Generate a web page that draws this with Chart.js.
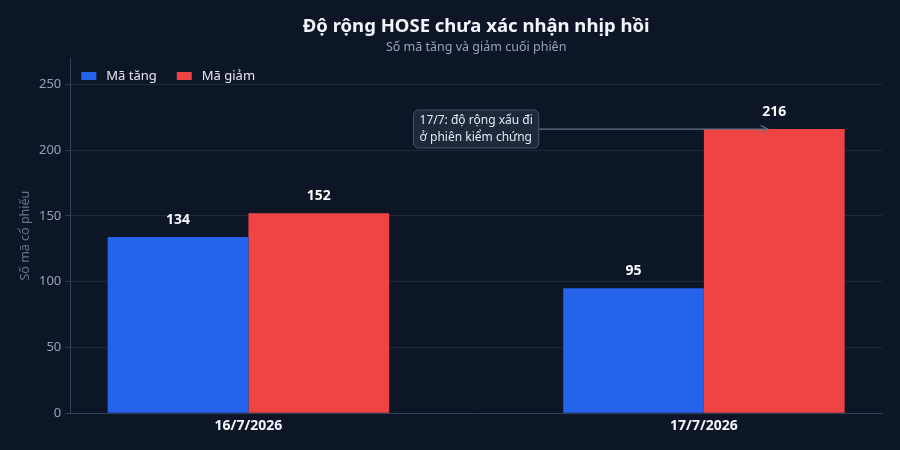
<!DOCTYPE html>
<html><head><meta charset="utf-8">
<script src="https://cdn.jsdelivr.net/npm/chart.js@4.4.1/dist/chart.umd.min.js"></script>
<style>
html,body{margin:0;padding:0;background:#0c1626;}
#wrap{width:900px;height:450px;}
</style></head>
<body><div id="wrap"><canvas id="c" width="900" height="450"></canvas></div>
<script>
const categories = ["16/7/2026", "17/7/2026"];
const seriesNames = ["Mã tăng", "Mã giảm"];
const seriesColors = ["#2563eb", "#ef4444"];
const upValues = [134, 95];
const downValues = [152, 216];
const yTicks = [0, 50, 100, 150, 200, 250];
const titleText = "Độ rộng HOSE chưa xác nhận nhịp hồi";
const subtitleText = "Số mã tăng và giảm cuối phiên";
const annotationText = ["17/7: độ rộng xấu đi", "ở phiên kiểm chứng"];
const annotationTextAt = [0.5, 216];
const annotationArrowTo = [1.14, 216];

const FONT = "'Noto Sans', 'DejaVu Sans', sans-serif";

const titles = {
  id: 'titles',
  afterDraw(chart) {
    const ctx = chart.ctx;
    const a = chart.chartArea;
    const cx = (a.left + a.right) / 2;
    ctx.save();
    ctx.textAlign = 'center';
    ctx.textBaseline = 'middle';
    ctx.fillStyle = '#f1f5f9';
    ctx.font = "bold 18.5px " + FONT;
    ctx.fillText(titleText, cx, 27);
    ctx.fillStyle = '#94a3b8';
    ctx.font = "12.5px " + FONT;
    ctx.fillText(subtitleText, cx, 47);
    ctx.restore();
  }
};

const valueLabels = {
  id: 'valueLabels',
  afterDatasetsDraw(chart) {
    const ctx = chart.ctx;
    ctx.save();
    ctx.font = "bold 14px " + FONT;
    ctx.fillStyle = '#f8fafc';
    ctx.textAlign = 'center';
    ctx.textBaseline = 'middle';
    chart.data.datasets.forEach((ds, i) => {
      chart.getDatasetMeta(i).data.forEach((el, j) => {
        ctx.fillText(String(ds.data[j].y), el.x, el.y - 17);
      });
    });
    ctx.restore();
  }
};

const legendInside = {
  id: 'legendInside',
  afterDatasetsDraw(chart) {
    const ctx = chart.ctx;
    const a = chart.chartArea;
    ctx.save();
    ctx.font = "13px " + FONT;
    ctx.textBaseline = 'middle';
    ctx.textAlign = 'left';
    let x = a.left + 11;
    const y = a.top + 18;
    seriesNames.forEach((n, i) => {
      ctx.fillStyle = seriesColors[i];
      ctx.fillRect(x, y - 4, 15, 8);
      ctx.fillStyle = '#e2e8f0';
      ctx.fillText(n, x + 25, y);
      x += 25 + ctx.measureText(n).width + 20;
    });
    ctx.restore();
  }
};

const annotation = {
  id: 'annot',
  afterDatasetsDraw(chart) {
    const ctx = chart.ctx;
    const xs = chart.scales.x, ys = chart.scales.y;
    const tx = xs.getPixelForValue(annotationTextAt[0]);
    const ty = ys.getPixelForValue(annotationTextAt[1]);
    const ax = xs.getPixelForValue(annotationArrowTo[0]);
    const ay = ys.getPixelForValue(annotationArrowTo[1]);
    ctx.save();
    ctx.font = "12px " + FONT;
    const w = Math.max(...annotationText.map(t => ctx.measureText(t).width)) + 12;
    const h = 38;
    const bx = tx - w / 2, by = ty - h / 2;
    ctx.strokeStyle = '#64748b';
    ctx.lineWidth = 1.3;
    ctx.beginPath();
    ctx.moveTo(bx + w, ty);
    ctx.lineTo(ax, ay);
    ctx.stroke();
    ctx.beginPath();
    ctx.moveTo(ax - 7, ay - 3.5);
    ctx.lineTo(ax, ay);
    ctx.lineTo(ax - 7, ay + 3.5);
    ctx.stroke();
    ctx.fillStyle = '#1e293b';
    ctx.strokeStyle = '#475569';
    ctx.lineWidth = 1;
    ctx.beginPath();
    ctx.roundRect(bx, by, w, h, 5);
    ctx.fill();
    ctx.stroke();
    ctx.fillStyle = '#e2e8f0';
    ctx.textAlign = 'left';
    ctx.textBaseline = 'middle';
    ctx.fillText(annotationText[0], bx + 6, ty - 8.5);
    ctx.fillText(annotationText[1], bx + 6, ty + 8.5);
    ctx.restore();
  }
};

new Chart(document.getElementById('c'), {
  type: 'bar',
  data: {
    datasets: [
      { label: seriesNames[0], data: upValues.map((v, i) => ({ x: i, y: v })), backgroundColor: seriesColors[0], borderWidth: 0 },
      { label: seriesNames[1], data: downValues.map((v, i) => ({ x: i, y: v })), backgroundColor: seriesColors[1], borderWidth: 0 }
    ]
  },
  options: {
    responsive: false,
    animation: false,
    devicePixelRatio: 1,
    categoryPercentage: 0.618,
    barPercentage: 1.0,
    layout: { padding: { left: 14, right: 18, top: 58, bottom: 12 } },
    plugins: {
      title: { display: false },
      subtitle: { display: false },
      legend: { display: false },
      tooltip: { enabled: false }
    },
    scales: {
      x: {
        type: 'linear', min: -0.391, max: 1.391, offset: false,
        afterBuildTicks: (s) => { s.ticks = categories.map((c, i) => ({ value: i })); },
        ticks: { callback: (v) => categories[v], color: '#f1f5f9', font: { family: FONT, size: 14, weight: 'bold' }, padding: 4, maxRotation: 0 },
        grid: { display: false, drawTicks: false },
        border: { display: true, color: '#334155' }
      },
      y: {
        min: 0, max: 270,
        afterBuildTicks: (s) => { s.ticks = yTicks.map(v => ({ value: v })); },
        ticks: { color: '#94a3b8', font: { family: FONT, size: 13 }, padding: 4 },
        grid: { color: 'rgba(148,163,184,0.14)', tickColor: '#334155', tickLength: 5 },
        border: { display: true, color: '#334155' },
        title: { display: true, text: 'Số mã cổ phiếu', color: '#64748b', font: { family: FONT, size: 12.5 }, padding: { bottom: 2 } }
      }
    }
  },
  plugins: [valueLabels, legendInside, annotation, titles, {
    id: 'bg',
    beforeDraw(chart) { const c = chart.ctx; c.save(); c.fillStyle = '#0c1626'; c.fillRect(0, 0, chart.width, chart.height); c.restore(); }
  }]
});
</script>
</body></html>
